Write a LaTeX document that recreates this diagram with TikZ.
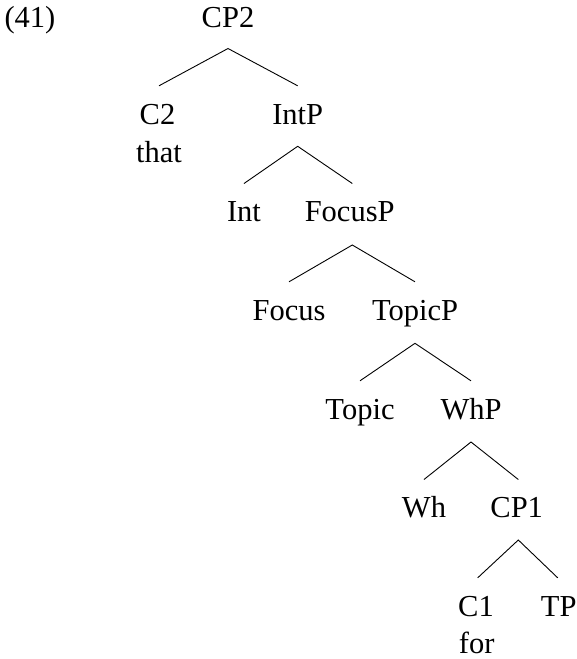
\documentclass[tikz,border=0pt]{standalone}
\usepackage{fontspec}
\setmainfont{Liberation Serif}
\begin{document}
\begin{tikzpicture}[x=1pt,y=-1pt,
  lbl/.style={anchor=base,inner sep=0pt,font=\fontsize{30.5}{36}\selectfont},
  branch/.style={line width=0.9pt,black}]
\useasboundingbox (0,0) rectangle (577,659);
\node[lbl] (ex) at (30,27) {(41)};
\node[lbl] (cp2) at (228,27) {CP2};
\node[lbl] (c2) at (157.5,124) {C2};
\node[lbl] (that) at (159,162) {that};
\node[lbl] (intp) at (297.7,124) {IntP};
\node[lbl] (int) at (244,221.7) {Int};
\node[lbl] (focusp) at (349.7,221.7) {FocusP};
\node[lbl] (focus) at (289,320) {Focus};
\node[lbl] (topicp) at (415,320) {TopicP};
\node[lbl] (topic) at (360,419) {Topic};
\node[lbl] (whp) at (471,419) {WhP};
\node[lbl] (wh) at (424,517.7) {Wh};
\node[lbl] (cp1) at (516.7,517.7) {CP1};
\node[lbl] (c1) at (476,616) {C1};
\node[lbl] (tp) at (558.7,616) {TP};
\node[lbl] (for) at (476.7,653) {for};
% branches
\draw[branch] ([yshift=38.2pt,xshift=1.5pt]c2.base) -- ([yshift=-21.5pt]cp2.base) -- ([yshift=38.2pt]intp.base);
\draw[branch] ([yshift=38.2pt]int.base) -- ([yshift=-22.3pt]intp.base) -- ([yshift=38.2pt,xshift=2.6pt]focusp.base);
\draw[branch] ([yshift=38.2pt]focus.base) -- ([yshift=-23.3pt,xshift=2.6pt]focusp.base) -- ([yshift=38.2pt]topicp.base);
\draw[branch] ([yshift=38.2pt]topic.base) -- ([yshift=-23.3pt]topicp.base) -- ([yshift=38.2pt]whp.base);
\draw[branch] ([yshift=38.2pt]wh.base) -- ([yshift=-23pt]whp.base) -- ([yshift=38.2pt,xshift=1.6pt]cp1.base);
\draw[branch] ([yshift=38.2pt,xshift=1.7pt]c1.base) -- ([yshift=-22.3pt,xshift=1.6pt]cp1.base) -- ([yshift=38.2pt,xshift=-1pt]tp.base);
\end{tikzpicture}
\end{document}
